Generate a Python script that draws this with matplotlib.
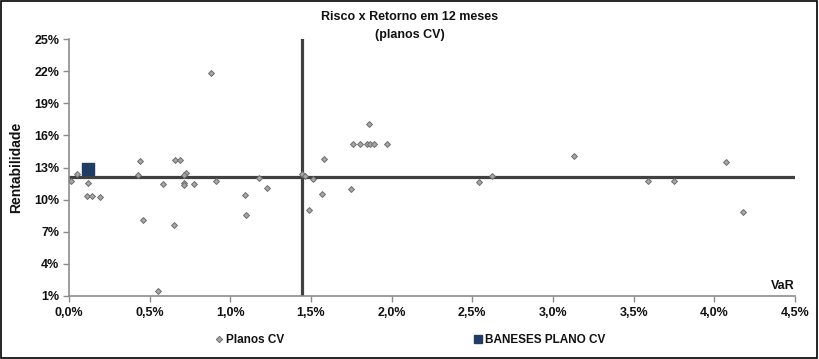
import matplotlib.pyplot as plt
from matplotlib.lines import Line2D
from matplotlib.ticker import FuncFormatter
import numpy as np

plt.rcParams['font.family'] = ['Liberation Sans', 'DejaVu Sans']

# VaR (%) x Rentabilidade (%) - planos CV
var_cv = [0.01, 0.05, 0.12, 0.11, 0.14, 0.19, 0.44, 0.43, 0.46, 0.55, 0.585, 0.65,
          0.66, 0.69, 0.725, 0.715, 0.71, 0.715, 0.773, 0.883, 0.913, 1.093, 1.097,
          1.18, 1.226, 1.443, 1.463, 1.488, 1.515, 1.567, 1.58, 1.748, 1.763, 1.806,
          1.846, 1.862, 1.868, 1.889, 1.97, 2.544, 2.62, 3.133, 3.59, 3.749, 4.075, 4.18]
ret_cv = [11.77, 12.4, 11.58, 10.37, 10.37, 10.27, 13.63, 12.3, 8.12, 1.49, 11.46, 7.6,
          13.67, 13.7, 12.46, 12.33, 11.58, 11.34, 11.43, 21.85, 11.74, 10.43, 8.53,
          12.05, 11.06, 12.39, 12.23, 9.03, 11.92, 10.55, 13.79, 11.02, 15.16, 15.19,
          15.22, 17.03, 15.22, 15.16, 15.22, 11.67, 12.18, 14.1, 11.74, 11.74, 13.51, 8.87]

var_baneses = [0.12]
ret_baneses = [12.83]

# medias (linhas dos quadrantes)
var_media = 1.443
ret_media = 12.14

fig = plt.figure(figsize=(8.19, 3.59), dpi=100)
ax = fig.add_axes([69 / 819, 1 - 296 / 359, (795 - 69) / 819, (296 - 39) / 359])

ax.scatter(var_cv, ret_cv, marker='D', s=9, facecolor='#a6a6a6', edgecolor='#6e6e6e',
           linewidth=0.7, zorder=3)
ax.scatter(var_baneses, ret_baneses, marker='s', s=70, color='#1f3c64', zorder=4)

ax.axhline(ret_media, color='#404040', linewidth=2.3, zorder=2)
ax.axvline(var_media, color='#404040', linewidth=2.3, zorder=2)

ax.set_xlim(0, 4.5)
ax.set_ylim(1, 25)
ax.set_xticks(np.arange(0, 4.51, 0.5))
ax.set_yticks(np.arange(1, 25.1, 3))
ax.xaxis.set_major_formatter(FuncFormatter(lambda v, p: f'{v:.1f}%'.replace('.', ',')))
ax.yaxis.set_major_formatter(FuncFormatter(lambda v, p: f'{v:.0f}%'))

for s in ['top', 'right']:
    ax.spines[s].set_visible(False)
for s in ['left', 'bottom']:
    ax.spines[s].set_color('#8c8c8c')
    ax.spines[s].set_linewidth(1.2)

ax.tick_params(axis='both', colors='#8c8c8c', length=4, width=1, labelcolor='#111111',
               labelsize=9)
ax.tick_params(axis='x', direction='out', pad=4)
ax.tick_params(axis='y', pad=3)
for lbl in ax.get_xticklabels() + ax.get_yticklabels():
    lbl.set_fontweight('bold')

ax.set_ylabel('Rentabilidade', fontsize=10, fontweight='bold', color='#111111', labelpad=8)
ax.text(1.0, 0.015, 'VaR', transform=ax.transAxes, ha='right', va='bottom',
        fontsize=9, fontweight='bold', color='#111111')

fig.text(0.5, 1 - 17 / 359, 'Risco x Retorno em 12 meses', ha='center', va='center',
         fontsize=9, fontweight='bold', color='#111111')
fig.text(0.5, 1 - 35 / 359, '(planos CV)', ha='center', va='center',
         fontsize=9, fontweight='bold', color='#111111')

handles = [
    Line2D([], [], marker='D', linestyle='none', markersize=3.2, markerfacecolor='#a6a6a6',
           markeredgecolor='#6e6e6e', markeredgewidth=0.7, label='Planos CV'),
    Line2D([], [], marker='s', linestyle='none', markersize=6, color='#1f3c64',
           label='BANESES PLANO CV'),
]
leg = fig.legend(handles=handles, loc='center', bbox_to_anchor=(0.5, 1 - 340 / 359), ncol=2,
                 frameon=False, fontsize=8.5, handletextpad=0.2, columnspacing=16,
                 handlelength=0.8)
for t in leg.get_texts():
    t.set_fontweight('bold')
    t.set_color('#111111')

# borda do grafico
fig.patches.append(plt.Rectangle((0.001, 0.002), 0.997, 0.995, transform=fig.transFigure,
                                 fill=False, edgecolor='black', linewidth=1.2))

fig.savefig('out.png', dpi=100)
